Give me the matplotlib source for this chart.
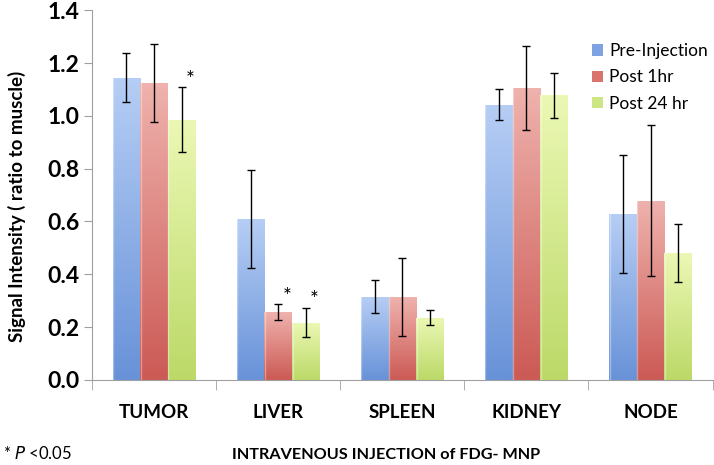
import matplotlib.pyplot as plt
import numpy as np
from matplotlib.colors import LinearSegmentedColormap

plt.rcParams['font.family'] = ['Lato', 'DejaVu Sans']

categories = ['TUMOR', 'LIVER', 'SPLEEN', 'KIDNEY', 'NODE']
series = ['Pre-Injection', 'Post 1hr', 'Post 24 hr']

pre_inj = [1.145, 0.609, 0.315, 1.042, 0.629]
pre_err = [0.092, 0.186, 0.062, 0.058, 0.223]
post_1hr = [1.126, 0.256, 0.313, 1.106, 0.679]
post_1hr_err = [0.148, 0.030, 0.147, 0.158, 0.286]
post_24hr = [0.985, 0.217, 0.235, 1.078, 0.479]
post_24hr_err = [0.123, 0.056, 0.028, 0.085, 0.110]

# significance markers (series index, category index)
signif = [(2, 0), (1, 1), (2, 1)]

values = [pre_inj, post_1hr, post_24hr]
errors = [pre_err, post_1hr_err, post_24hr_err]
# (bottom colour, top colour, legend colour)
colors = [('#6892d8', '#b6cef5', '#7fa3e2'),
          ('#cc5a55', '#efb2ad', '#d9736e'),
          ('#bcd968', '#ebf8b4', '#cde684')]

fig = plt.figure(figsize=(7.14, 4.65), dpi=100)
ax = fig.add_axes([0.129, 0.183, 0.869, 0.795])

x = np.arange(len(categories))
w = 0.223

for i, (vals, errs) in enumerate(zip(values, errors)):
    pos = x + (i - 1) * w
    bars = ax.bar(pos, vals, w, color=colors[i][2], edgecolor='none', zorder=2,
                  label=series[i])
    cmap = LinearSegmentedColormap.from_list('g%d' % i, [colors[i][0], colors[i][1]])
    for b in bars:
        bx, by = b.get_x(), b.get_y()
        bw, bh = b.get_width(), b.get_height()
        grad = np.linspace(0, 1, 100).reshape(-1, 1)
        im = ax.imshow(grad, cmap=cmap, origin='lower', aspect='auto',
                       extent=[bx, bx + bw, by, by + bh], zorder=2.5)
        im.set_clip_path(b)
        ax.plot([bx + 0.004, bx + 0.004], [0, bh], color='white', lw=1, alpha=0.35, zorder=2.6)
    ax.errorbar(pos, vals, yerr=errs, fmt='none', ecolor='black', elinewidth=1,
                capsize=3, capthick=1, zorder=3)

for si, ci in signif:
    top = values[si][ci] + errors[si][ci]
    ax.text(x[ci] + (si - 1) * w + 0.07, top - 0.01, '*', fontsize=15,
            ha='center', va='bottom', zorder=4)

ax.set_xlim(-0.5, len(categories) - 0.5)
ax.set_ylim(0, 1.4)
ax.set_yticks(np.arange(0, 1.41, 0.2))
ax.set_yticklabels(['%.1f' % v for v in np.arange(0, 1.41, 0.2)],
                   fontsize=16.5, fontweight='bold')
ax.set_xticks(x)
ax.set_xticklabels(categories, fontsize=13.5, fontweight='bold')
ax.set_xticks(np.arange(-0.5, len(categories)), minor=True)
ax.tick_params(axis='x', which='major', length=0, pad=17)
ax.tick_params(axis='x', which='minor', length=7, color='#a0a0a0', direction='out')
ax.tick_params(axis='y', length=6, color='#a0a0a0', pad=3)
for s in ['top', 'right']:
    ax.spines[s].set_visible(False)
for s in ['left', 'bottom']:
    ax.spines[s].set_color('#a0a0a0')
ax.set_xlim(-0.5, len(categories) - 0.5)

ax.set_ylabel('Signal Intensity ( ratio to muscle)', fontsize=13.5, fontweight='bold')
ax.yaxis.set_label_coords(-0.107, 0.47)

leg = ax.legend(loc='upper left', bbox_to_anchor=(0.795, 0.93), frameon=False,
                fontsize=12.5, handlelength=0.63, handleheight=0.63, handletextpad=0.35,
                labelspacing=0.6, borderaxespad=0)

fig.text(0.004, 0.006, '* $\\it{P}$ <0.05', fontsize=12, ha='left', va='bottom')
fig.text(0.541, 0.006, 'INTRAVENOUS INJECTION of FDG- MNP', fontsize=11.7,
         fontweight='bold', ha='center', va='bottom')

fig.savefig('out.png', dpi=100)
